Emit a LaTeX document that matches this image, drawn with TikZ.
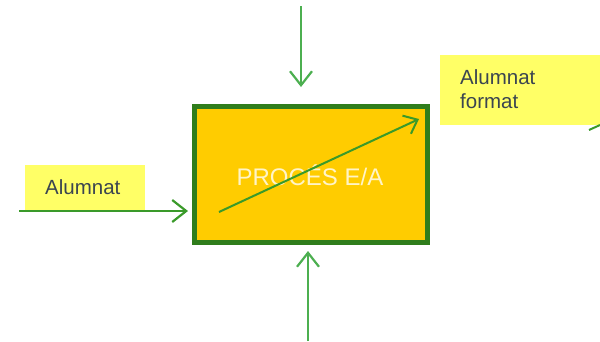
\documentclass[tikz,border=0pt]{standalone}
\usepackage{fontspec}
\setmainfont{Liberation Sans}
\usetikzlibrary{arrows.meta}
\definecolor{boxfill}{HTML}{FFCC00}
\definecolor{boxedge}{HTML}{2F7D1C}
\definecolor{flowgreen}{HTML}{4CAF50}
\definecolor{diaggreen}{HTML}{3A9A2A}
\definecolor{notefill}{HTML}{FFFF66}
\definecolor{notetext}{HTML}{3B4550}
\definecolor{titletext}{HTML}{FFF4C8}
\tikzset{
  flow/.style={draw=flowgreen, line width=2.2pt,
    -{Straight Barb[length=14pt,width=22pt,line width=2.2pt]}},
  note/.style={fill=notefill, inner sep=0pt, text=notetext,
    font=\fontsize{20.5}{24}\selectfont},
  process/.style={fill=boxfill, draw=boxedge, line width=5pt,
    minimum width=233pt, minimum height=136pt, inner sep=0pt},
}
\begin{document}
\begin{tikzpicture}[x=1pt,y=-1pt]
  \useasboundingbox (0,0) rectangle (600,341);
  % central process box
  \node[process] (proc) at (311,174.5) {};
  \node[text=titletext, font=\fontsize{24}{28}\selectfont] (title) at (310,175) {PROCÉS E/A};
  % learning-progress arrow across the box
  \coordinate (dstart) at (219,212);
  \coordinate (dend) at (419,119);
  \draw[draw=diaggreen, line width=2pt,
    -{Straight Barb[length=12pt,width=20pt,line width=2pt]}] (dstart) -- (dend);
  % input note
  \node[note, minimum width=120pt, minimum height=47pt, anchor=north west] (inbox) at (25,165) {};
  \node[note, fill=none, anchor=base west] (intext) at (45,194) {Alumnat};
  % output note
  \node[note, minimum width=160pt, minimum height=70pt, anchor=north west] (outbox) at (440,55) {};
  \node[note, fill=none, anchor=base west, align=left] (outtext) at (460,108) {Alumnat\\format};
  % connectors
  \coordinate (instart) at (19,211);
  \coordinate (intip) at (188,211);
  \draw[flow, draw=diaggreen] (instart) -- (intip);
  \coordinate (topstart) at (301,6);
  \coordinate (toptip) at (301,87);
  \draw[flow] (topstart) -- (toptip);
  \coordinate (botstart) at (308,341);
  \coordinate (bottip) at (308,251);
  \draw[flow] (botstart) -- (bottip);
  \coordinate (outstart) at (589,130);
  \coordinate (outend) at (600,125);
  \draw[draw=diaggreen, line width=2pt] (outstart) -- (outend);
\end{tikzpicture}
\end{document}
